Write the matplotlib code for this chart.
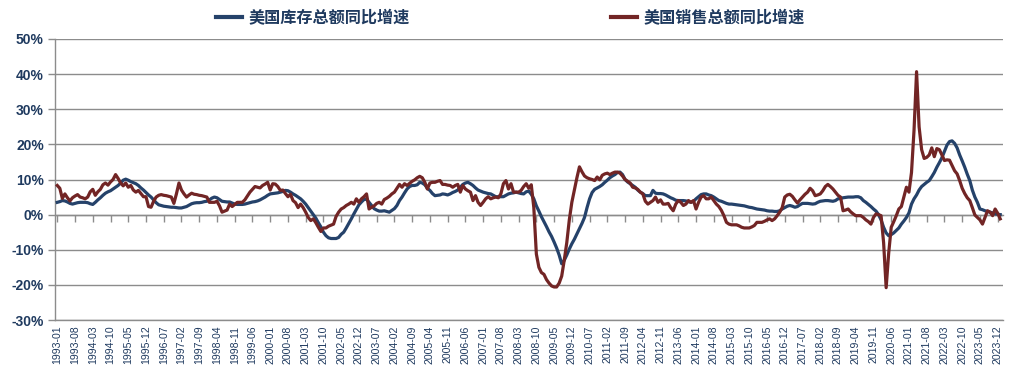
import numpy as np
import pandas as pd
import matplotlib
matplotlib.use("Agg")
import matplotlib.pyplot as plt
from matplotlib.lines import Line2D
from matplotlib.font_manager import FontProperties

# ---------------- data (YoY %, monthly from 1993-01) ----------------
series_names = ["美国库存总额同比增速", "美国销售总额同比增速"]

inventory_yoy = (
    [3.5, 3.7, 4.0, 3.9, 3.6, 3.2, 3.0, 3.2, 3.4, 3.5, 3.5, 3.5] +          # 1993
    [3.4, 3.1, 2.9, 3.5, 4.2, 4.8, 5.5, 6.1, 6.5, 6.8, 7.3, 7.8] +          # 1994
    [8.3, 9.0, 9.8, 10.1, 9.8, 9.4, 9.1, 8.8, 8.3, 7.6, 7.0, 6.3] +         # 1995
    [5.6, 5.0, 4.2, 3.4, 2.8, 2.6, 2.4, 2.3, 2.2, 2.1, 2.1, 2.0] +          # 1996
    [1.9, 1.9, 2.1, 2.3, 2.7, 3.1, 3.3, 3.4, 3.4, 3.5, 3.7, 3.8] +          # 1997
    [4.2, 4.7, 5.0, 4.8, 4.3, 3.8, 3.7, 3.6, 3.6, 3.3, 3.0, 2.9] +          # 1998
    [2.9, 2.9, 3.0, 3.2, 3.4, 3.6, 3.7, 3.9, 4.2, 4.6, 5.0, 5.5] +          # 1999
    [5.9, 6.0, 6.1, 6.2, 6.4, 6.6, 6.9, 6.8, 6.4, 5.9, 5.5, 5.0] +          # 2000
    [4.5, 3.8, 3.0, 2.0, 1.0, 0.0, -1.0, -2.3, -3.5, -5.0, -6.0, -6.6] +    # 2001
    [-6.8, -6.8, -6.8, -6.5, -5.6, -5.0, -3.8, -2.5, -1.2, 0.2, 1.5, 2.8] + # 2002
    [3.6, 4.3, 4.4, 3.5, 2.6, 1.7, 1.3, 1.0, 1.0, 1.1, 0.9, 0.7] +          # 2003
    [1.2, 1.7, 2.6, 4.0, 5.0, 6.2, 7.3, 8.0, 8.3, 8.3, 8.5, 9.2] +          # 2004
    [9.0, 8.5, 7.5, 6.9, 6.0, 5.4, 5.5, 5.6, 5.9, 5.8, 5.6, 5.9] +          # 2005
    [6.3, 6.6, 7.0, 7.8, 8.6, 9.0, 9.2, 8.8, 8.3, 7.6, 7.0, 6.7] +          # 2006
    [6.4, 6.2, 6.0, 5.9, 5.5, 5.1, 5.1, 5.1, 5.1, 5.5, 5.9, 6.1] +          # 2007
    [6.2, 6.4, 6.2, 6.0, 5.9, 6.5, 6.7, 5.8, 4.5, 2.5, 1.0, -0.6] +         # 2008
    [-2.0, -3.4, -4.9, -6.2, -7.8, -9.5, -11.5, -14.0, -13.0, -11.5, -9.8, -8.3] +  # 2009
    [-7.0, -5.5, -4.0, -2.5, -0.8, 2.0, 4.5, 6.3, 7.2, 7.6, 8.0, 8.5] +     # 2010
    [9.2, 9.8, 10.5, 11.0, 11.4, 12.0, 12.1, 11.4, 10.0, 9.3, 8.8, 8.3] +   # 2011
    [7.8, 7.0, 6.4, 6.0, 5.4, 5.4, 5.4, 6.9, 6.1, 6.0, 6.0, 5.9] +          # 2012
    [5.6, 5.2, 4.8, 4.5, 4.1, 4.0, 4.0, 4.0, 3.9, 3.7, 3.5, 3.8] +          # 2013
    [4.5, 5.1, 5.7, 5.9, 5.9, 5.6, 5.4, 5.0, 4.5, 4.0, 3.8, 3.5] +          # 2014
    [3.2, 3.0, 3.0, 2.9, 2.8, 2.7, 2.6, 2.5, 2.3, 2.1, 2.0, 1.8] +          # 2015
    [1.6, 1.5, 1.4, 1.3, 1.1, 1.0, 1.0, 0.9, 0.9, 1.1, 1.6, 2.0] +          # 2016
    [2.4, 2.6, 2.4, 2.1, 2.3, 2.8, 3.2, 3.2, 3.2, 3.1, 3.0, 3.1] +          # 2017
    [3.5, 3.8, 3.9, 4.0, 4.0, 3.9, 3.8, 4.0, 4.5, 4.6, 4.8, 4.9] +          # 2018
    [5.0, 5.0, 5.0, 5.1, 5.1, 4.8, 4.0, 3.5, 2.9, 2.3, 1.6, 1.0] +          # 2019
    [0.0, -1.5, -3.6, -5.2, -6.0, -5.7, -5.2, -4.5, -3.8, -2.7, -1.8, -0.8] +  # 2020
    [0.5, 3.0, 4.5, 5.6, 7.0, 8.0, 8.6, 9.2, 9.7, 10.8, 12.0, 13.5] +       # 2021
    [14.8, 16.2, 18.0, 19.8, 20.8, 21.0, 20.3, 19.0, 17.0, 15.3, 13.5, 11.5] +  # 2022
    [9.7, 7.0, 5.0, 3.5, 1.6, 1.4, 1.1, 0.9, 0.7, 0.5, 0.2, 0.1] +          # 2023
    [0.0]                                                                   # 2024
)

sales_yoy = (
    [8.3, 7.5, 4.6, 5.9, 4.8, 3.9, 4.8, 5.3, 5.7, 5.0, 4.8, 4.5] +          # 1993
    [5.0, 6.5, 7.2, 5.5, 6.5, 7.2, 8.5, 9.0, 8.4, 9.3, 10.0, 11.4] +        # 1994
    [10.3, 9.0, 8.2, 9.0, 7.8, 8.3, 7.0, 6.4, 6.9, 6.0, 5.1, 5.1] +         # 1995
    [2.3, 2.1, 3.8, 5.0, 5.5, 5.7, 5.5, 5.4, 5.2, 5.0, 3.2, 5.9] +          # 1996
    [9.0, 7.0, 5.9, 5.0, 5.6, 6.1, 5.8, 5.7, 5.5, 5.4, 5.2, 5.0] +          # 1997
    [3.5, 3.5, 3.5, 3.8, 2.5, 0.7, 1.0, 1.3, 3.0, 2.3, 2.9, 3.5] +          # 1998
    [3.5, 3.5, 4.2, 5.3, 6.4, 7.2, 8.0, 7.8, 7.6, 8.3, 8.7, 9.2] +          # 1999
    [7.0, 8.8, 8.7, 8.0, 6.9, 7.0, 6.0, 5.1, 5.8, 4.0, 3.4, 2.0] +          # 2000
    [3.0, 2.0, 0.7, -0.8, -1.7, -1.2, -2.3, -3.6, -4.8, -3.8, -3.8, -3.3] + # 2001
    [-3.0, -2.7, -0.5, 0.7, 1.6, 2.0, 2.6, 3.0, 3.5, 3.0, 4.5, 3.5] +       # 2002
    [4.5, 5.1, 5.9, 1.6, 2.1, 2.5, 3.2, 3.5, 3.0, 4.3, 4.7, 5.2] +          # 2003
    [5.9, 6.4, 7.5, 8.6, 7.8, 8.8, 8.3, 8.9, 9.5, 9.9, 10.5, 10.9] +        # 2004
    [10.5, 9.2, 7.3, 9.0, 9.2, 9.2, 9.5, 9.7, 8.6, 8.6, 8.4, 8.3] +         # 2005
    [7.8, 8.3, 8.6, 6.4, 8.3, 7.3, 6.8, 6.4, 4.0, 5.4, 3.5, 2.6] +          # 2006
    [3.5, 4.5, 5.1, 4.5, 4.8, 5.0, 4.8, 5.9, 8.8, 9.7, 7.3, 8.8] +          # 2007
    [6.4, 6.4, 6.4, 6.9, 8.0, 8.8, 7.5, 8.5, 2.0, -11.2, -15.0, -16.5] +    # 2008
    [-17.0, -18.5, -19.5, -20.3, -20.6, -20.6, -19.5, -17.5, -13.0, -8.0, -1.5, 3.5] +  # 2009
    [7.0, 10.5, 13.6, 12.2, 11.0, 10.5, 10.2, 10.0, 9.7, 10.7, 9.9, 11.2] + # 2010
    [11.6, 11.8, 11.4, 11.8, 12.1, 12.1, 11.8, 11.0, 10.0, 9.5, 9.0, 7.8] + # 2011
    [7.6, 7.2, 6.4, 5.9, 3.8, 3.0, 3.5, 4.0, 5.0, 3.5, 4.2, 3.0] +          # 2012
    [3.0, 3.2, 2.0, 1.1, 3.0, 4.0, 3.5, 2.6, 3.0, 4.0, 3.5, 4.0] +          # 2013
    [1.6, 3.5, 5.0, 5.4, 4.5, 4.5, 5.0, 4.0, 3.0, 2.3, 1.2, -0.3] +         # 2014
    [-2.2, -2.7, -2.9, -2.9, -2.9, -3.2, -3.6, -3.8, -3.8, -3.8, -3.5, -3.1] +  # 2015
    [-2.2, -2.2, -2.2, -1.9, -1.5, -1.2, -1.7, -1.2, -0.3, 0.7, 2.0, 5.0] + # 2016
    [5.6, 5.8, 5.2, 4.2, 3.3, 4.2, 5.0, 5.8, 6.4, 7.5, 6.8, 5.4] +          # 2017
    [5.6, 5.9, 6.8, 8.0, 8.6, 8.0, 7.3, 6.4, 5.5, 5.0, 1.1, 1.3] +          # 2018
    [1.6, 0.8, 0.2, -0.3, -0.3, -0.3, -0.8, -1.5, -2.0, -2.7, -0.8, 0.2] +  # 2019
    [0.0, -0.3, -8.0, -20.8, -11.0, -3.6, -2.0, -0.3, 1.6, 2.3, 5.0, 7.8] + # 2020
    [6.4, 12.0, 24.0, 40.7, 25.0, 18.5, 16.0, 16.3, 17.0, 19.0, 16.5, 18.8] +  # 2021
    [18.5, 17.0, 15.4, 15.6, 15.5, 14.0, 12.5, 11.6, 9.7, 7.5, 6.0, 4.8] +  # 2022
    [4.0, 2.0, -0.1, -0.8, -1.5, -2.7, -0.8, 1.1, 0.7, -0.3, 1.6, 0.4] +    # 2023
    [-1.2]                                                                  # 2024
)

start_month = "1993-01"
label_step = 7
y_ticks = [-30, -20, -10, 0, 10, 20, 30, 40, 50]

# ---------------- figure ----------------
n = len(inventory_yoy)
months = pd.period_range(start=start_month, periods=n, freq="M").strftime("%Y-%m").tolist()
x = np.arange(n)

navy = "#1F3A5F"
grid_c = "#8C8C8C"
c_inv = "#25426A"
c_sales = "#722525"

fig = plt.figure(figsize=(10.15, 3.76), dpi=100)
ax = fig.add_axes([55 / 1015, 56 / 376, 948 / 1015, 281 / 376])

ax.plot(x, inventory_yoy, color=c_inv, lw=2.3, solid_joinstyle="round", zorder=3)
ax.plot(x, sales_yoy, color=c_sales, lw=2.3, solid_joinstyle="round", zorder=4)

ax.set_xlim(-0.9, n - 1 + 1.1)
ax.set_ylim(-30, 50)

# y axis
ax.set_yticks(y_ticks)
ax.set_yticklabels([f"{v}%" for v in y_ticks], fontfamily="Liberation Sans",
                   fontweight="bold", fontsize=10, color=navy)
ax.tick_params(axis="y", direction="out", length=5, width=1, color=grid_c, pad=3)
ax.yaxis.grid(True, color=grid_c, lw=1)
ax.set_axisbelow(True)

# x axis labels at bottom
tick_pos = x[::label_step]
ax.set_xticks(tick_pos)
ax.set_xticklabels([months[i] for i in tick_pos], rotation=90,
                   fontfamily="Liberation Sans", fontsize=7.6, color=navy)
ax.tick_params(axis="x", length=0, pad=4)

for s in ["top", "right"]:
    ax.spines[s].set_visible(False)
for s in ["left", "bottom"]:
    ax.spines[s].set_color(grid_c)
    ax.spines[s].set_linewidth(1)

# category axis crossing at 0% with tick marks
zero_frac = (0 - (-30)) / (50 - (-30))
sec = ax.secondary_xaxis(zero_frac)
sec.set_xticks(tick_pos)
sec.set_xticklabels([])
sec.tick_params(axis="x", direction="out", length=5, width=1, color=grid_c)
sec.spines["bottom"].set_color(grid_c)
sec.spines["bottom"].set_linewidth(1)

# legend
handles = [Line2D([], [], color=c_inv, lw=3),
           Line2D([], [], color=c_sales, lw=3)]
leg = fig.legend(handles, series_names, loc="center", bbox_to_anchor=(0.503, 0.952),
                 ncol=2, frameon=False, handlelength=1.6, handletextpad=0.4,
                 columnspacing=12.5,
                 prop=FontProperties(family="Noto Sans CJK SC", weight="bold", size=11.6))
for t in leg.get_texts():
    t.set_color(navy)

fig.savefig("out.png", dpi=100)
